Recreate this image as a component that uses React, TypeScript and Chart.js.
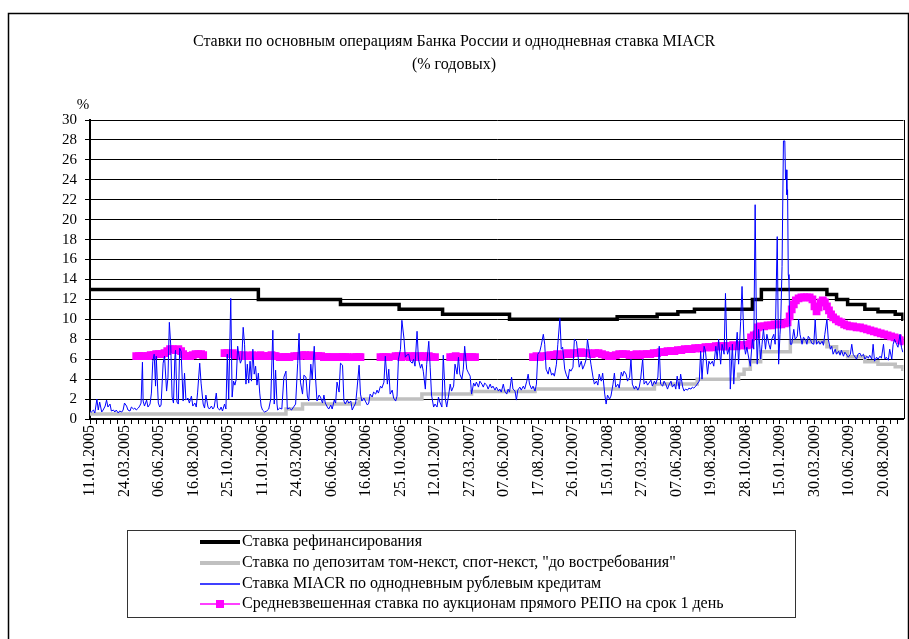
import React, { useEffect, useRef } from 'react';
import { Chart, registerables } from 'chart.js';

Chart.register(...registerables);

const SERIF = "'Liberation Serif', 'Times New Roman', serif";

const titleLines = ['Ставки по основным операциям Банка России и однодневная ставка MIACR', '(% годовых)'];
const yUnit = '%';

// x-axis: trading-day index, a label every 50 days
const xLabels = [
  '11.01.2005', '24.03.2005', '06.06.2005', '16.08.2005', '25.10.2005', '11.01.2006',
  '24.03.2006', '06.06.2006', '16.08.2006', '25.10.2006', '12.01.2007', '27.03.2007',
  '07.06.2007', '17.08.2007', '26.10.2007', '15.01.2008', '27.03.2008', '07.06.2008',
  '19.08.2008', '28.10.2008', '15.01.2009', '30.03.2009', '10.06.2009', '20.08.2009',
];
const labelEvery = 50;
const tickEvery = 10;
const lastDay = 1179;

const seriesNames = [
  'Ставка рефинансирования',
  'Ставка по депозитам том-некст, спот-некст, "до востребования"',
  'Ставка MIACR по однодневным рублевым кредитам',
  'Средневзвешенная ставка по аукционам прямого РЕПО на срок 1 день',
];

// [day index, rate] — value holds from that day on
const refiRate: [number, number][] = [
  [0, 13], [244, 12], [363, 11.5], [448, 11], [511, 10.5], [608, 10], [764, 10.25],
  [822, 10.5], [852, 10.75], [876, 11], [960, 12], [973, 13], [1068, 12.5], [1082, 12],
  [1098, 11.5], [1123, 11], [1142, 10.75], [1167, 10.5], [1178, 10], [1179, 10],
];

const depositRate: [number, number][] = [
  [0, 0.5], [284, 1.0], [308, 1.5], [390, 2.0], [481, 2.5], [553, 2.75], [645, 3.0],
  [818, 3.5], [880, 4.0], [940, 4.5], [948, 5.0], [957, 5.75], [972, 6.75], [1015, 7.75],
  [1068, 7.25], [1082, 6.75], [1098, 6.25], [1123, 5.75], [1142, 5.5], [1167, 5.25],
  [1178, 5.0], [1179, 5.0],
];

const miacrRate: [number, number][] = [
  [0, 0.8], [2, 0.7], [5, 0.9], [7, 0.6], [10, 2.0], [12, 0.9], [14, 1.7], [17, 0.7], [19, 0.9],
  [22, 1.3], [24, 1.9], [26, 1.2], [29, 1.5], [31, 0.8], [34, 0.9], [36, 0.7], [38, 0.9], [41, 0.6],
  [43, 0.8], [46, 0.7], [48, 0.9], [50, 1.6], [53, 1.3], [55, 0.9], [58, 0.8], [60, 1.2], [63, 1.0],
  [65, 1.1], [67, 0.9], [70, 1.1], [72, 1.3], [74, 1.6], [76, 5.7], [77, 1.8], [79, 1.3], [82, 1.9],
  [84, 1.2], [87, 1.5], [89, 2.6], [91, 5.8], [93, 6.5], [95, 3.3], [96, 6.3], [99, 1.6], [101, 1.2],
  [103, 1.4], [106, 5.6], [108, 6.3], [111, 2.8], [113, 4.2], [115, 9.7], [117, 7.4], [119, 2.2],
  [121, 1.6], [123, 6.2], [124, 6.9], [126, 1.7], [128, 1.5], [130, 7.1], [132, 6.8], [135, 1.8],
  [137, 4.6], [139, 1.9], [142, 2.1], [144, 1.6], [147, 2.3], [149, 1.3], [152, 1.6], [154, 1.2],
  [156, 2.7], [159, 5.6], [161, 3.6], [164, 1.5], [166, 1.1], [168, 2.4], [171, 1.2], [173, 1.0],
  [176, 1.3], [178, 1.0], [180, 1.2], [183, 2.6], [185, 1.1], [188, 0.9], [190, 1.2], [192, 0.8],
  [195, 1.5], [197, 1.0], [199, 6.5], [201, 2.0], [204, 12.1], [206, 2.2], [208, 3.8], [210, 3.4],
  [212, 4.0], [214, 7.3], [216, 6.3], [218, 5.6], [220, 6.0], [222, 9.2], [224, 7.5], [226, 3.5],
  [228, 5.5], [230, 3.6], [232, 5.8], [234, 3.8], [236, 7.0], [238, 4.5], [240, 5.3], [242, 3.4],
  [244, 4.6], [246, 2.6], [248, 1.3], [250, 0.9], [253, 0.7], [256, 0.8], [259, 1.0], [262, 2.0],
  [265, 8.9], [267, 1.5], [269, 4.9], [271, 1.5], [272, 0.9], [275, 1.1], [278, 1.0], [281, 4.2],
  [284, 4.8], [286, 1.0], [289, 1.1], [292, 0.9], [295, 1.2], [298, 1.5], [301, 5.6], [303, 8.6],
  [305, 3.7], [308, 2.5], [310, 4.4], [313, 4.2], [315, 2.3], [317, 1.8], [320, 5.5], [322, 4.0],
  [325, 7.3], [327, 4.0], [329, 1.8], [332, 2.4], [334, 2.2], [337, 1.6], [339, 2.4], [341, 1.6],
  [344, 1.2], [346, 1.0], [349, 1.4], [351, 1.0], [354, 1.9], [356, 1.6], [358, 3.7], [361, 2.7],
  [363, 5.6], [366, 5.4], [368, 1.8], [370, 1.5], [373, 1.9], [375, 1.6], [378, 1.8], [380, 0.9],
  [382, 1.2], [385, 1.6], [387, 3.0], [390, 5.4], [392, 2.5], [394, 1.8], [397, 2.1], [399, 1.8],
  [402, 1.4], [404, 1.6], [406, 2.5], [409, 2.2], [411, 2.7], [414, 2.5], [416, 2.9], [418, 2.6],
  [421, 3.3], [423, 3.1], [426, 3.7], [428, 6.3], [431, 3.5], [433, 5.0], [435, 2.5], [438, 2.9],
  [440, 2.1], [443, 1.8], [445, 2.3], [447, 6.0], [450, 7.0], [452, 9.9], [455, 8.1], [457, 6.2],
  [459, 6.4], [462, 6.5], [464, 5.8], [467, 5.6], [469, 6.0], [471, 5.3], [474, 8.8], [476, 6.0],
  [479, 5.1], [481, 5.5], [483, 4.8], [486, 3.0], [488, 5.5], [491, 7.8], [493, 5.2], [495, 2.4],
  [498, 1.2], [500, 1.5], [503, 1.2], [505, 2.2], [507, 1.7], [510, 1.2], [512, 6.4], [515, 2.0],
  [517, 1.2], [520, 2.5], [522, 3.5], [524, 2.8], [527, 3.3], [529, 5.5], [532, 4.5], [534, 6.2],
  [536, 4.5], [539, 4.0], [541, 5.0], [543, 7.3], [546, 5.0], [548, 4.7], [551, 4.3], [553, 2.5],
  [556, 3.6], [558, 3.3], [560, 3.7], [563, 3.2], [565, 3.8], [568, 3.5], [570, 3.2], [572, 3.6],
  [575, 3.4], [577, 3.0], [580, 3.5], [582, 3.1], [584, 3.3], [587, 2.9], [589, 3.2], [592, 2.8],
  [594, 3.0], [596, 2.7], [599, 3.5], [601, 2.8], [604, 2.5], [606, 3.0], [608, 2.7], [611, 4.2],
  [613, 3.0], [616, 2.8], [618, 1.9], [620, 2.9], [623, 3.2], [625, 2.9], [628, 3.3], [630, 3.0],
  [633, 3.8], [635, 4.5], [637, 3.5], [640, 3.0], [642, 3.3], [645, 2.8], [647, 3.5], [649, 6.5],
  [652, 6.8], [654, 7.4], [657, 8.5], [659, 7.5], [661, 5.0], [664, 4.5], [666, 5.2], [669, 4.4],
  [671, 4.6], [673, 4.3], [676, 5.5], [678, 7.5], [681, 10.1], [683, 7.0], [685, 7.2], [688, 5.0],
  [690, 4.5], [693, 4.0], [695, 5.0], [697, 4.8], [700, 5.2], [702, 8.0], [705, 7.8], [707, 6.5],
  [709, 5.2], [712, 5.8], [714, 5.0], [717, 5.5], [719, 6.0], [721, 8.0], [724, 6.5], [726, 5.5],
  [729, 4.2], [731, 3.5], [734, 3.8], [736, 3.4], [738, 4.5], [741, 3.8], [743, 4.6], [746, 2.5],
  [748, 1.5], [750, 2.4], [753, 2.0], [755, 2.3], [758, 3.5], [760, 4.6], [762, 3.2], [765, 3.5],
  [767, 3.1], [770, 4.7], [772, 4.3], [774, 4.8], [777, 4.5], [779, 3.8], [782, 4.2], [784, 6.0],
  [786, 3.5], [789, 3.0], [791, 3.3], [794, 2.9], [796, 3.2], [798, 4.0], [801, 6.0], [803, 3.5],
  [806, 3.8], [808, 3.4], [810, 3.6], [813, 3.9], [815, 3.3], [818, 3.8], [820, 3.5], [823, 4.2],
  [825, 7.3], [827, 3.5], [830, 3.3], [832, 3.8], [835, 3.4], [837, 3.0], [839, 3.4], [842, 3.8],
  [844, 3.2], [847, 3.5], [849, 3.0], [851, 4.3], [854, 3.0], [856, 4.5], [859, 3.2], [861, 2.8],
  [863, 3.0], [866, 2.9], [868, 3.1], [871, 3.0], [873, 3.2], [875, 3.1], [878, 3.3], [880, 3.5],
  [883, 3.8], [885, 6.8], [887, 4.0], [890, 7.3], [892, 6.8], [895, 4.5], [897, 5.8], [899, 5.5],
  [902, 5.8], [904, 5.3], [907, 7.3], [909, 6.0], [911, 8.0], [914, 5.5], [916, 7.5], [919, 6.5],
  [921, 12.6], [923, 7.0], [924, 6.5], [927, 7.2], [928, 3.0], [931, 7.5], [933, 3.5], [935, 6.0],
  [938, 8.7], [940, 5.5], [943, 9.8], [945, 13.3], [948, 7.5], [950, 6.5], [952, 7.2], [955, 6.0],
  [957, 5.3], [960, 8.0], [962, 7.0], [964, 21.5], [966, 8.0], [967, 5.5], [969, 9.0], [972, 6.0],
  [974, 7.5], [976, 9.0], [979, 7.0], [981, 8.5], [984, 7.5], [986, 7.0], [988, 8.0], [991, 8.5],
  [993, 7.5], [996, 18.3], [998, 5.5], [1000, 8.5], [1001, 9.5], [1003, 15.3], [1005, 27.9],
  [1007, 27.9], [1008, 24.0], [1009, 25.0], [1010, 22.5], [1011, 23.0], [1012, 14.5], [1013, 14.0],
  [1014, 9.5], [1015, 7.5], [1017, 7.5], [1020, 9.0], [1022, 8.0], [1025, 8.3], [1027, 10.0],
  [1029, 8.5], [1032, 7.5], [1034, 8.2], [1037, 8.0], [1039, 7.5], [1041, 8.3], [1044, 8.0],
  [1046, 7.6], [1049, 7.5], [1051, 10.0], [1053, 7.5], [1056, 7.8], [1058, 7.5], [1061, 7.8],
  [1063, 7.4], [1065, 8.5], [1068, 10.0], [1070, 8.0], [1073, 7.0], [1075, 7.3], [1077, 6.5],
  [1080, 7.0], [1082, 6.5], [1085, 6.8], [1087, 6.4], [1089, 6.9], [1092, 6.3], [1094, 6.7],
  [1097, 6.4], [1099, 6.2], [1102, 6.5], [1104, 7.5], [1106, 6.5], [1109, 6.2], [1111, 6.0],
  [1113, 6.5], [1116, 6.6], [1118, 6.3], [1121, 6.5], [1123, 6.0], [1126, 6.3], [1128, 6.1],
  [1130, 6.4], [1133, 6.0], [1135, 7.5], [1137, 5.8], [1140, 6.2], [1142, 6.0], [1145, 6.3],
  [1147, 6.1], [1150, 7.5], [1152, 6.0], [1154, 6.2], [1157, 5.9], [1159, 7.0], [1162, 6.0],
  [1164, 7.5], [1166, 8.0], [1169, 7.5], [1171, 7.2], [1174, 8.5], [1176, 7.2], [1178, 6.7],
];

// null = no auction that day (gap in the line)
const repoRate: [number, number | null][] = [
  [67, 6.3], [71, 6.3], [75, 6.3], [77, 6.3], [80, null],
  [84, 6.3], [88, 6.4], [92, 6.4], [96, 6.5], [100, 6.5], [104, 6.5], [108, 6.6], [112, 6.8],
  [116, 7.0], [120, 7.0], [124, 6.9], [128, 7.0], [132, 6.8], [135, 6.5], [139, 6.3], [143, 6.3],
  [145, 6.3], [147, null],
  [149, 6.4], [153, 6.5], [157, 6.5], [161, 6.5], [164, 6.4], [170, null],
  [195, 6.6], [199, 6.6], [203, 6.5], [207, 6.6], [211, 6.4], [215, 6.4], [219, 6.3], [223, 6.4],
  [227, 6.3], [231, 6.3], [235, 6.4], [239, 6.3], [243, 6.3], [247, 6.4], [251, 6.3], [255, 6.3],
  [259, 6.3], [263, 6.4], [267, 6.3], [269, 6.3], [271, null],
  [275, 6.2], [279, 6.2], [283, 6.2], [287, 6.2], [289, 6.2], [292, null],
  [296, 6.3], [300, 6.3], [304, 6.3], [308, 6.4], [312, 6.4], [316, 6.3], [320, 6.4], [324, 6.3],
  [328, 6.3], [331, 6.3], [333, null],
  [335, 6.3], [339, 6.2], [343, 6.2], [347, 6.2], [351, 6.2], [354, null],
  [358, 6.2], [362, 6.2], [366, 6.2], [370, 6.2], [373, 6.2], [377, null],
  [382, 6.2], [386, 6.2], [390, 6.2], [392, 6.2], [400, null],
  [421, 6.2], [425, 6.2], [429, 6.2], [433, 6.2], [438, null],
  [443, 6.3], [447, 6.3], [451, 6.2], [455, 6.3], [459, 6.3], [463, 6.2], [467, 6.3], [471, 6.3],
  [475, 6.2], [479, 6.3], [483, 6.3], [487, 6.2], [491, 6.3], [495, 6.2], [500, 6.2], [510, null],
  [522, 6.2], [526, 6.2], [530, 6.3], [534, 6.2], [538, 6.2], [542, 6.2], [546, 6.2], [550, 6.2],
  [554, 6.2], [558, 6.2], [600, null],
  [642, 6.2], [647, 6.3], [652, 6.2], [657, 6.3], [662, 6.3], [667, 6.4], [672, 6.4], [677, 6.5],
  [682, 6.4], [687, 6.5], [692, 6.6], [697, 6.5], [702, 6.6], [707, 6.6], [712, 6.7], [717, 6.6],
  [722, 6.6], [727, 6.5], [732, 6.6], [737, 6.6], [742, 6.5], [747, 6.4], [752, 6.3], [757, 6.3],
  [762, 6.4], [767, 6.5], [772, 6.5], [777, 6.5], [782, 6.4], [787, 6.4], [792, 6.5], [797, 6.4],
  [802, 6.5], [807, 6.5], [812, 6.5], [817, 6.6], [822, 6.6], [827, 6.7], [832, 6.7], [837, 6.8],
  [842, 6.8], [847, 6.8], [852, 6.9], [857, 6.9], [862, 7.0], [867, 7.0], [872, 7.0], [877, 7.1],
  [882, 7.1], [887, 7.1], [892, 7.2], [897, 7.2], [902, 7.2], [907, 7.3], [912, 7.3], [917, 7.3],
  [922, 7.3], [927, 7.3], [932, 7.4], [937, 7.3], [942, 7.4], [947, 7.4], [952, 7.4], [956, 7.5],
  [958, 8.2], [962, 8.4], [966, 8.5], [968, 9.2], [972, 9.3], [977, 9.3], [982, 9.4], [987, 9.4],
  [992, 9.5], [997, 9.5], [1002, 9.5], [1007, 9.6], [1011, 9.7], [1014, 10.3], [1017, 11.0],
  [1020, 11.5], [1023, 11.9], [1027, 12.1], [1031, 12.2], [1035, 12.2], [1039, 12.2], [1043, 12.2],
  [1047, 12.0], [1050, 11.3], [1053, 10.8], [1056, 11.2], [1059, 11.7], [1062, 11.9], [1065, 11.7],
  [1068, 11.3], [1071, 10.9], [1074, 10.5], [1077, 10.2], [1081, 10.0], [1085, 9.8], [1089, 9.7],
  [1093, 9.5], [1097, 9.4], [1101, 9.3], [1106, 9.3], [1111, 9.2], [1116, 9.2], [1121, 9.1],
  [1126, 9.0], [1131, 8.9], [1136, 8.8], [1141, 8.7], [1146, 8.6], [1151, 8.5], [1156, 8.4],
  [1161, 8.3], [1166, 8.2], [1171, 8.1], [1175, 7.9], [1179, 7.8],
];

const toPoints = (arr: [number, number | null][]) => arr.map(([x, y]) => ({ x, y }));

const legendSample = [
  { width: 4, marker: false },
  { width: 4, marker: false },
  { width: 1.5, marker: false },
  { width: 1.5, marker: true },
];

const decorPlugin = {
  id: 'decor',
  afterDraw(chart: any) {
    const ctx = chart.ctx as CanvasRenderingContext2D;
    const ca = chart.chartArea;
    ctx.save();
    // outer frame
    ctx.strokeStyle = '#000';
    ctx.lineWidth = 1.5;
    ctx.strokeRect(8.5, 13.5, 900, 700);
    // plot-area right edge
    ctx.lineWidth = 1;
    ctx.beginPath();
    ctx.moveTo(Math.round(ca.right) + 0.5, ca.top);
    ctx.lineTo(Math.round(ca.right) + 0.5, ca.bottom);
    ctx.stroke();
    // title
    ctx.fillStyle = '#000';
    ctx.textAlign = 'center';
    ctx.textBaseline = 'middle';
    ctx.font = `16px ${SERIF}`;
    ctx.fillText(titleLines[0], 454, 42);
    ctx.fillText(titleLines[1], 454, 65);
    // unit
    ctx.font = `15px ${SERIF}`;
    ctx.fillText(yUnit, 83, 105);
    // legend
    ctx.font = `16px ${SERIF}`;
    ctx.lineWidth = 1;
    ctx.strokeStyle = '#333';
    ctx.strokeRect(127.5, 530.5, 668, 87);
    const rows = [542, 563, 584, 604];
    ctx.textAlign = 'left';
    chart.data.datasets.forEach((ds: any, i: number) => {
      const y = rows[i];
      const s = legendSample[i];
      ctx.strokeStyle = ds.borderColor;
      ctx.lineWidth = s.width;
      ctx.beginPath();
      ctx.moveTo(200, y);
      ctx.lineTo(240, y);
      ctx.stroke();
      if (s.marker) {
        ctx.fillStyle = ds.pointBackgroundColor;
        ctx.fillRect(216, y - 4, 8, 8);
      }
      ctx.fillStyle = '#000';
      ctx.fillText(ds.label, 242, y);
    });
    ctx.restore();
  },
};

function RatesChart() {
  const ref = useRef<HTMLCanvasElement | null>(null);
  useEffect(() => {
    if (!ref.current) return;
    const chart = new Chart(ref.current, {
      type: 'line',
      data: {
        datasets: [
          {
            label: seriesNames[0],
            data: toPoints(refiRate),
            borderColor: '#000000',
            borderWidth: 3.5,
            stepped: true,
            pointRadius: 0,
            order: 4,
          },
          {
            label: seriesNames[1],
            data: toPoints(depositRate),
            borderColor: '#c0c0c0',
            borderWidth: 3.5,
            stepped: true,
            pointRadius: 0,
            order: 3,
          },
          {
            label: seriesNames[2],
            data: toPoints(miacrRate),
            borderColor: '#0000ff',
            borderWidth: 1,
            pointRadius: 0,
            order: 1,
          },
          {
            label: seriesNames[3],
            data: toPoints(repoRate),
            borderColor: '#ff00ff',
            borderWidth: 1,
            pointStyle: 'rect',
            pointRadius: 5.5,
            pointBorderWidth: 0,
            pointBackgroundColor: '#ff00ff',
            spanGaps: false,
            order: 2,
          },
        ],
      },
      options: {
        animation: false,
        responsive: false,
        devicePixelRatio: 1,
        events: [],
        layout: { padding: { top: 120, left: 0, right: 2, bottom: 120 } },
        plugins: { legend: { display: false }, title: { display: false }, tooltip: { enabled: false } },
        scales: {
          x: {
            type: 'linear',
            min: 0,
            max: lastDay,
            afterFit: (s: any) => {
              s.height = 100;
              s.paddingLeft = 0;
              s.paddingRight = 0;
            },
            grid: { display: true, drawOnChartArea: false, drawTicks: true, tickLength: 5, color: '#000' },
            border: { display: true, color: '#000', width: 2 },
            ticks: {
              stepSize: tickEvery,
              autoSkip: false,
              includeBounds: false,
              maxRotation: 90,
              minRotation: 90,
              padding: 1,
              color: '#000',
              font: { family: SERIF, size: 16 },
              callback: (v: any) => {
                const n = Math.round(Number(v));
                return n % labelEvery === 0 ? xLabels[n / labelEvery] ?? '' : '';
              },
            },
          },
          y: {
            min: 0,
            max: 30,
            afterFit: (s: any) => {
              s.width = 90;
              s.paddingTop = 0;
              s.paddingBottom = 0;
            },
            grid: { color: '#000', lineWidth: 1, drawTicks: true, tickLength: 5 },
            border: { display: true, color: '#000', width: 2 },
            ticks: { stepSize: 2, autoSkip: false, padding: 8, color: '#000', font: { family: SERIF, size: 15 } },
          },
        },
      },
      plugins: [decorPlugin],
    } as any);
    return () => chart.destroy();
  }, []);
  return <canvas ref={ref} width={909} height={639} style={{ display: 'block', width: 909, height: 639 }} />;
}

export default function App() {
  return (
    <div style={{ position: 'fixed', left: 0, top: 0, width: 909, height: 639, background: '#fff', overflow: 'hidden' }}>
      <RatesChart />
    </div>
  );
}
